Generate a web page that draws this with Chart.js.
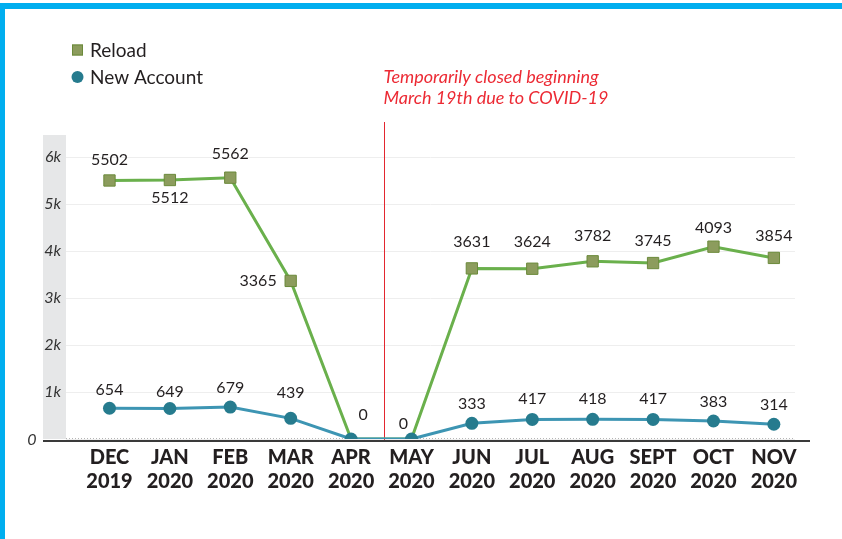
<!DOCTYPE html>
<html>
<head>
<meta charset="utf-8">
<script src="https://cdn.jsdelivr.net/npm/chart.js@4"></script>
<style>
    html, body { margin: 0; padding: 0; background: #fff; }
    #wrap { position: relative; width: 842px; height: 539px; overflow: hidden; }
    #chart { position: absolute; left: 0; top: 0; }
    .bar-top { position: absolute; left: 0; top: 3px; width: 842px; height: 6px; background: #00aeef; }
    .bar-left { position: absolute; left: 0; top: 3px; width: 5px; height: 536px; background: #00aeef; }
</style>
</head>
<body>
<div id="wrap">
    <canvas id="chart" width="842" height="539"></canvas>
    <div class="bar-top"></div>
    <div class="bar-left"></div>
</div>
<script>
// ----------------------
// Data
// ----------------------
const months = [
    ["DEC", "2019"], ["JAN", "2020"], ["FEB", "2020"], ["MAR", "2020"],
    ["APR", "2020"], ["MAY", "2020"], ["JUN", "2020"], ["JUL", "2020"],
    ["AUG", "2020"], ["SEPT", "2020"], ["OCT", "2020"], ["NOV", "2020"]
];
const reload = [5502, 5512, 5562, 3365, 0, 0, 3631, 3624, 3782, 3745, 4093, 3854];
const newAccount = [654, 649, 679, 439, 0, 0, 333, 417, 418, 417, 383, 314];
const yTicks = [0, 1000, 2000, 3000, 4000, 5000, 6000];
const yTickLabels = ["0", "1k", "2k", "3k", "4k", "5k", "6k"];
const noteLines = ["Temporarily closed beginning", "March 19th due to COVID-19"];
const closedAt = 4.55; // between APR and MAY

// where each value label sits relative to its point: [dx, dy, align] (null = no label)
const reloadLabelAt = [
    [0, -21], [0, 18], [0, -24], [-14, 0, "right"], null, null,
    [0, -27], [0, -27], [0, -25], [0, -22], [0, -19], [0, -22]
];
const newAccountLabelAt = [
    [0, -18], [0, -17], [0, -19], [0, -26], [12, -24], [-8, -15],
    [0, -20], [0, -21], [0, -21], [0, -21], [0, -19], [0, -19]
];

const GREEN_LINE = "#6ab04c";
const GREEN_FILL = "#8c9c5d";
const GREEN_EDGE = "#6b8a3a";
const BLUE_LINE = "#3d95b3";
const BLUE_FILL = "#267b8e";
const TEXT = "#231f20";
const FONT = "Lato, 'Open Sans', sans-serif";

const toPoints = (arr) => arr.map((v, i) => ({ x: i, y: v }));

// ----------------------
// Plugins
// ----------------------
const decorPlugin = {
    id: "decor",
    beforeDraw(chart) {
        const { ctx, chartArea, scales } = chart;
        const y = scales.y;
        // gray band behind y tick labels
        ctx.save();
        ctx.fillStyle = "#e6e7e8";
        ctx.fillRect(y.left, chartArea.top, y.right - y.left, chartArea.bottom - chartArea.top);
        ctx.restore();
    },
    beforeDatasetsDraw(chart) {
        const { ctx, chartArea, scales } = chart;
        const x = scales.x;
        const y = scales.y;
        const base = y.getPixelForValue(0);
        ctx.save();
        // dotted baseline
        ctx.strokeStyle = "#b5b5b5";
        ctx.lineWidth = 1;
        ctx.setLineDash([1, 2]);
        ctx.beginPath();
        ctx.moveTo(chartArea.left, base - 0.5);
        ctx.lineTo(chartArea.right, base - 0.5);
        ctx.stroke();
        ctx.setLineDash([]);
        // solid axis line
        ctx.strokeStyle = "#3a3a3a";
        ctx.lineWidth = 2;
        ctx.beginPath();
        ctx.moveTo(y.left, base + 2);
        ctx.lineTo(chartArea.right + 15, base + 2);
        ctx.stroke();
        // red closure line
        const cx = Math.round(x.getPixelForValue(closedAt)) + 0.5;
        ctx.strokeStyle = "#e3262f";
        ctx.lineWidth = 1;
        ctx.beginPath();
        ctx.moveTo(cx, chartArea.top - 13);
        ctx.lineTo(cx, base + 1);
        ctx.stroke();
        // note text
        ctx.fillStyle = "#ec2a34";
        ctx.font = "italic 18px " + FONT;
        ctx.textBaseline = "middle";
        ctx.textAlign = "left";
        noteLines.forEach((t, i) => ctx.fillText(t, cx - 1, 77 + i * 21));
        // "0" tick label, set apart to the lower left
        ctx.fillStyle = "#333";
        ctx.font = "italic 16px " + FONT;
        ctx.textAlign = "center";
        ctx.fillText(yTickLabels[0], y.left - 11, base + 1);
        ctx.restore();
    },
    afterDatasetsDraw(chart) {
        const { ctx } = chart;
        ctx.save();
        ctx.font = "16px " + FONT;
        ctx.fillStyle = TEXT;
        ctx.textBaseline = "middle";
        chart.data.datasets.forEach((ds, di) => {
            const meta = chart.getDatasetMeta(di);
            meta.data.forEach((pt, i) => {
                const at = ds.labelAt[i];
                if (!at) return;
                ctx.textAlign = at[2] || "center";
                ctx.fillText(String(ds.data[i].y), pt.x + at[0], pt.y + at[1]);
            });
        });
        ctx.restore();
    },
    afterDraw(chart) {
        // legend, top left
        const { ctx } = chart;
        ctx.save();
        ctx.font = "19px " + FONT;
        ctx.fillStyle = TEXT;
        ctx.textBaseline = "middle";
        ctx.textAlign = "left";
        const items = [chart.data.datasets[1], chart.data.datasets[0]];
        items.forEach((ds, i) => {
            const cy = 50 + i * 27;
            if (ds.pointStyle === "rect") {
                ctx.fillStyle = ds.pointBackgroundColor;
                ctx.strokeStyle = ds.pointBorderColor;
                ctx.lineWidth = 1;
                ctx.fillRect(72, cy - 5.5, 11, 11);
                ctx.strokeRect(72.5, cy - 5, 10, 10);
            } else {
                ctx.fillStyle = ds.pointBackgroundColor;
                ctx.beginPath();
                ctx.arc(77.5, cy, 6, 0, Math.PI * 2);
                ctx.fill();
            }
            ctx.fillStyle = TEXT;
            ctx.fillText(ds.label, 90, cy + 1);
        });
        ctx.restore();
    }
};

// ----------------------
// Chart
// ----------------------
const chartCanvas = document.getElementById("chart").getContext("2d");

new Chart(chartCanvas, {
    type: "line",
    data: {
        datasets: [
            {
                label: "New Account",
                data: toPoints(newAccount),
                labelAt: newAccountLabelAt,
                borderColor: BLUE_LINE,
                borderWidth: 3,
                pointStyle: "circle",
                pointRadius: 6.5,
                pointBackgroundColor: BLUE_FILL,
                pointBorderColor: BLUE_FILL,
                pointBorderWidth: 0,
                order: 0
            },
            {
                label: "Reload",
                data: toPoints(reload),
                labelAt: reloadLabelAt,
                borderColor: GREEN_LINE,
                borderWidth: 3,
                pointStyle: "rect",
                pointRadius: (c) => (c.raw && c.raw.y === 0 ? 0 : 8),
                pointBackgroundColor: GREEN_FILL,
                pointBorderColor: GREEN_EDGE,
                pointBorderWidth: 1,
                order: 1
            }
        ]
    },
    options: {
        responsive: false,
        animation: false,
        layout: { padding: { top: 135, right: 47, left: 43, bottom: 0 } },
        plugins: {
            legend: { display: false },
            tooltip: { enabled: false }
        },
        scales: {
            x: {
                type: "linear",
                min: -0.72,
                max: 11.35,
                afterBuildTicks: (scale) => {
                    scale.ticks = months.map((m, i) => ({ value: i }));
                },
                afterFit: (scale) => { scale.height = 100; },
                grid: { display: false, drawTicks: false },
                border: { display: false },
                ticks: {
                    autoSkip: false,
                    maxRotation: 0,
                    padding: 7,
                    color: TEXT,
                    font: { family: FONT, size: 20, weight: "900", lineHeight: 1.2 },
                    callback: (v) => months[v]
                }
            },
            y: {
                min: 0,
                max: 6470,
                afterBuildTicks: (scale) => {
                    scale.ticks = yTicks.map((v) => ({ value: v }));
                },
                afterFit: (scale) => { scale.width = 23; },
                grid: { color: "#eeeeee", lineWidth: 1, drawTicks: false },
                border: { display: false },
                ticks: {
                    padding: 5,
                    color: "#333",
                    font: { family: FONT, size: 16, style: "italic" },
                    callback: (v) => (v === 0 ? "" : yTickLabels[yTicks.indexOf(v)])
                }
            }
        }
    },
    plugins: [decorPlugin]
});
</script>
</body>
</html>
